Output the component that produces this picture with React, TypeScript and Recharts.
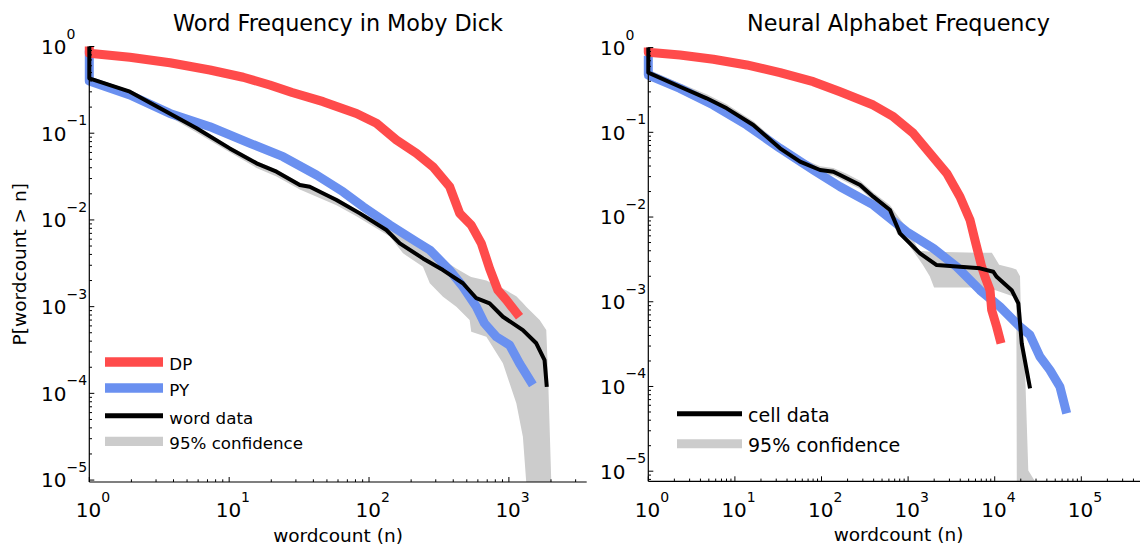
import React from 'react';
import { ComposedChart, Line, Area, XAxis, YAxis, Legend } from 'recharts';

const FONT = '"DejaVu Sans", "Liberation Sans", sans-serif';
const RED = '#ff4b4b';
const BLUE = '#6a90f0';
const BLACK = '#000000';
const GRAY = '#cccccc';

// ---------------- Left panel: Word Frequency in Moby Dick ----------------
const wordDpN = [1, 1, 1.95, 3.77, 7.28, 12.6, 19.5, 28.2, 47, 81.3, 113, 157, 218, 286, 377, 445, 538, 635, 728, 834, 957, 1191];
const wordDpP = [1, 0.835, 0.75, 0.65, 0.536, 0.442, 0.36, 0.295, 0.231, 0.169, 0.13, 0.0836, 0.0586, 0.0411, 0.0242, 0.0119, 0.0087, 0.00537, 0.00275, 0.00155, 0.0012, 0.000764];

const wordPyN = [1, 1, 1.95, 3.77, 7.28, 14.1, 24.3, 42.1, 65.2, 90.6, 141, 218, 272, 377, 469, 585, 670, 813, 1012, 1191, 1483];
const wordPyP = [0.9, 0.4, 0.276, 0.169, 0.119, 0.0764, 0.0536, 0.033, 0.0211, 0.0142, 0.00873, 0.00561, 0.0045, 0.00264, 0.0017, 0.001, 0.000641, 0.00045, 0.00036, 0.000222, 0.000125];

const wordDataN = [1, 1, 1.95, 3.38, 5.85, 10.1, 15.7, 21.8, 32, 37.7, 58.5, 86, 133, 166, 243, 338, 469, 585, 728, 906, 1259, 1570, 1799, 1866];
const wordDataP = [1, 0.43, 0.301, 0.185, 0.114, 0.0668, 0.045, 0.036, 0.0253, 0.0241, 0.017, 0.0119, 0.00766, 0.00537, 0.0036, 0.00264, 0.00186, 0.00125, 0.00109, 0.000764, 0.000537, 0.000378, 0.000242, 0.000119];

const LEFT_Y_MIN = 9.5e-6;
const wordBandN = [1, 1.95, 3.38, 5.85, 10.1, 15.7, 21.8, 32, 58.5, 81.3, 141, 175, 243, 272, 338, 421, 524, 538, 690, 906, 1130, 1259, 1330, 1660, 1850, 1900, 2010];
const wordBandLo = [0.398, 0.275, 0.17, 0.102, 0.0603, 0.0398, 0.0316, 0.0224, 0.0148, 0.011, 0.00646, 0.00412, 0.00288, 0.00186, 0.0013, 0.001, 0.0007, 0.000514, 0.00045, 0.000222, 7.7e-5, 3.16e-5, LEFT_Y_MIN, LEFT_Y_MIN, LEFT_Y_MIN, LEFT_Y_MIN, LEFT_Y_MIN];
const wordBandHi = [0.447, 0.316, 0.195, 0.12, 0.0708, 0.0479, 0.038, 0.0269, 0.0182, 0.0132, 0.00813, 0.00631, 0.00457, 0.00412, 0.00347, 0.00275, 0.00224, 0.00219, 0.002, 0.00162, 0.00132, 0.0011, 0.001, 0.0007, 0.000537, 0.000186, LEFT_Y_MIN];

// ---------------- Right panel: Neural Alphabet Frequency ----------------
const cellDpN = [1, 1, 2.32, 5.64, 13.7, 33.2, 80.4, 164, 396, 675, 1148, 1791, 2793, 3972, 5188, 5916, 7079, 7727, 8831, 9226, 10540, 11830];
const cellDpP = [1, 0.879, 0.818, 0.728, 0.624, 0.506, 0.396, 0.301, 0.21, 0.153, 0.0973, 0.0565, 0.0328, 0.0174, 0.00923, 0.00535, 0.00259, 0.00197, 0.00137, 0.000798, 0.000507, 0.000323];

const cellPyN = [1, 1, 2.32, 5.64, 13.7, 33.2, 80.4, 164, 396, 964, 1954, 3639, 6761, 11510, 19590, 25530, 33340, 43450, 56620, 67760];
const cellPyP = [0.8, 0.475, 0.33, 0.21, 0.122, 0.0647, 0.0359, 0.0228, 0.0139, 0.0067, 0.00427, 0.00259, 0.00137, 0.000873, 0.000507, 0.000405, 0.000224, 0.000156, 9.93e-5, 4.81e-5];

const cellDataN = [1, 1, 2.32, 4.72, 8.04, 16.3, 33.2, 56.5, 96.2, 137, 164, 279, 396, 618, 805, 1371, 2138, 6761, 9638, 10540, 15700, 18750, 20510, 25590];
const cellDataP = [1, 0.506, 0.345, 0.252, 0.192, 0.122, 0.0647, 0.045, 0.0359, 0.0343, 0.0313, 0.0239, 0.0174, 0.0121, 0.00641, 0.00372, 0.00271, 0.00248, 0.00226, 0.00197, 0.00137, 0.000957, 0.000323, 9.5e-5];

const RIGHT_Y_MIN = 7.6e-6;
const cellBandN = [1, 2.32, 4.72, 8.04, 16.3, 33.2, 56.5, 96.2, 137, 195, 279, 396, 618, 750, 1000, 1340, 1476, 1778, 1995, 6310, 9268, 11250, 15850, 17780, 17990, 19590, 19950, 22390, 24430, 29170];
const cellBandLo = [0.468, 0.309, 0.229, 0.174, 0.11, 0.0589, 0.0407, 0.0324, 0.0309, 0.0257, 0.0214, 0.0155, 0.0107, 0.0063, 0.00481, 0.00316, 0.00273, 0.002, 0.00147, 0.00147, 0.00141, 0.00132, 0.00117, 0.00112, RIGHT_Y_MIN, RIGHT_Y_MIN, RIGHT_Y_MIN, RIGHT_Y_MIN, RIGHT_Y_MIN, RIGHT_Y_MIN];
const cellBandHi = [0.55, 0.38, 0.282, 0.214, 0.135, 0.0724, 0.0501, 0.0398, 0.038, 0.0324, 0.0269, 0.0195, 0.0138, 0.0105, 0.00708, 0.00398, 0.00398, 0.00389, 0.00389, 0.0038, 0.0038, 0.00273, 0.00251, 0.0024, 0.00234, 0.002, 0.000955, 0.000156, 1.02e-5, RIGHT_Y_MIN];

// ---------------- Axes ----------------
const leftXDecades = [1, 10, 100, 1000];
const LEFT_X_MAX = 3600;
const rightXDecades = [1, 10, 100, 1000, 10000, 100000];
const RIGHT_X_MAX = 600000;
const yDecades = [1e-5, 1e-4, 1e-3, 1e-2, 1e-1, 1];
const minorSteps = [2, 3, 4, 5, 6, 7, 8, 9];

const leftTitle = 'Word Frequency in Moby Dick';
const rightTitle = 'Neural Alphabet Frequency';
const xLabelText = 'wordcount (n)';
const yLabelText = 'P[wordcount > n]';
const leftLegendLabels = ['DP', 'PY', 'word data', '95% confidence'];
const rightLegendLabels = ['cell data', '95% confidence'];

function logTicks(decades: number[], min: number, max: number): number[] {
  const out: number[] = [];
  const all = [decades[0] / 10, ...decades];
  all.forEach((d) => {
    if (d >= min && d <= max) out.push(d);
    minorSteps.forEach((k) => {
      const v = d * k;
      if (v >= min && v <= max) out.push(v);
    });
  });
  return out.sort((a, b) => a - b);
}

const zip = (ns: number[], ps: number[]) => ns.map((n, i) => ({ n, p: ps[i] }));
const zipBand = (ns: number[], lo: number[], hi: number[]) => ns.map((n, i) => ({ n, r: [lo[i], hi[i]] }));

const isDecade = (v: number) => Math.abs(Math.log10(v) - Math.round(Math.log10(v))) < 1e-6;
const expText = (v: number) => {
  const e = Math.round(Math.log10(v));
  return e < 0 ? '\u2212' + String(-e) : String(e);
};

const XH = 40;
const YW = 58;

const makeXTick = (axisY: number) => (props: any) => {
  const { x, payload } = props;
  const v = payload.value;
  const major = isDecade(v);
  return (
    <g>
      <line x1={x} x2={x} y1={axisY} y2={axisY - (major ? 5 : 2.7)} stroke="#000" strokeWidth={1} />
      {major ? (
        <text x={x - 13.5} y={axisY + 35.3} fontFamily={FONT} fontSize={20} fill="#000">
          10
          <tspan dy={-15} fontSize={14}>{expText(v)}</tspan>
        </text>
      ) : null}
    </g>
  );
};

const makeYTick = (axisX: number) => (props: any) => {
  const { y, payload } = props;
  const v = payload.value;
  const major = isDecade(v);
  return (
    <g>
      <line x1={axisX} x2={axisX + (major ? 5 : 2.7)} y1={y} y2={y} stroke="#000" strokeWidth={1} />
      {major ? (
        <text x={axisX - 48.3} y={y + 7.4} fontFamily={FONT} fontSize={20} fill="#000">
          10
          <tspan dy={-15.4} fontSize={14}>{expText(v)}</tspan>
        </text>
      ) : null}
    </g>
  );
};

type LegendItem = { label: string; color: string; width: number };

interface PanelProps {
  left: number;
  width: number;
  height: number;
  plotLeft: number;
  plotRight: number;
  plotTop: number;
  plotBottom: number;
  xMax: number;
  yMin: number;
  xTicks: number[];
  yTicks: number[];
  band: any[];
  py: any[];
  dp: any[];
  obs: any[];
  title: string;
  showYLabel: boolean;
  legendItems: LegendItem[];
  legendLeft: number;
  legendTop: number;
  legendRows: number[];
  legendLineLen: number;
  legendTextX: number;
  legendFont: number;
}

function Panel(p: PanelProps) {
  const margin = {
    top: p.plotTop,
    right: p.width - p.plotRight,
    bottom: p.height - p.plotBottom - XH,
    left: p.plotLeft - YW,
  };
  const xLabel = (props: any) => {
    const vb = props.viewBox || { x: p.plotLeft, width: p.plotRight - p.plotLeft };
    const cx = vb.x + vb.width / 2;
    return (
      <g>
        <text x={cx} y={p.plotBottom + 59.7} textAnchor="middle" fontFamily={FONT} fontSize={18.5} fill="#000">
          {xLabelText}
        </text>
        <text x={cx} y={30.5} textAnchor="middle" fontFamily={FONT} fontSize={22.3} fill="#000">
          {p.title}
        </text>
      </g>
    );
  };
  const yLabel = (props: any) => {
    if (!p.showYLabel) return null;
    const cy = (p.plotTop + p.plotBottom) / 2;
    return (
      <text
        transform={`translate(25.6, ${cy}) rotate(-90)`}
        textAnchor="middle"
        fontFamily={FONT}
        fontSize={18.5}
        fill="#000"
      >
        {yLabelText}
      </text>
    );
  };
  const legendContent = () => (
    <svg width={300} height={120} style={{ display: 'block', overflow: 'visible' }}>
      {p.legendItems.map((it, i) => (
        <g key={it.label}>
          <line x1={0} x2={p.legendLineLen} y1={p.legendRows[i]} y2={p.legendRows[i]} stroke={it.color} strokeWidth={it.width} />
          <text x={p.legendTextX} y={p.legendRows[i] + 7.8} fontFamily={FONT} fontSize={p.legendFont} fill="#000">
            {it.label}
          </text>
        </g>
      ))}
    </svg>
  );
  return (
    <div style={{ position: 'absolute', left: p.left, top: 0, width: p.width, height: p.height }}>
      <ComposedChart width={p.width} height={p.height} margin={margin}>
        <XAxis
          dataKey="n"
          type="number"
          scale="log"
          domain={[1, p.xMax]}
          ticks={p.xTicks}
          interval={0}
          height={XH}
          tickLine={false}
          axisLine={{ stroke: '#000', strokeWidth: 1.2 }}
          tick={makeXTick(p.plotBottom)}
          label={xLabel}
        />
        <YAxis
          type="number"
          scale="log"
          domain={[p.yMin, 1]}
          ticks={p.yTicks}
          interval={0}
          width={YW}
          tickLine={false}
          axisLine={{ stroke: '#000', strokeWidth: 1.2 }}
          tick={makeYTick(p.plotLeft)}
          label={yLabel}
        />
        <Area
          data={p.band}
          dataKey="r"
          type="linear"
          stroke="none"
          fill={GRAY}
          fillOpacity={1}
          dot={false}
          activeDot={false}
          isAnimationActive={false}
        />
        <Line data={p.py} dataKey="p" type="linear" stroke={BLUE} strokeWidth={9} dot={false} activeDot={false} strokeLinejoin="round" isAnimationActive={false} />
        <Line data={p.dp} dataKey="p" type="linear" stroke={RED} strokeWidth={9} dot={false} activeDot={false} strokeLinejoin="round" isAnimationActive={false} />
        <Line data={p.obs} dataKey="p" type="linear" stroke={BLACK} strokeWidth={4} dot={false} activeDot={false} strokeLinejoin="round" isAnimationActive={false} />
        <Legend
          layout="vertical"
          align="center"
          verticalAlign="middle"
          wrapperStyle={{ position: 'absolute', left: p.legendLeft, top: p.legendTop, width: 300, height: 120, margin: 0, padding: 0 }}
          content={legendContent}
        />
      </ComposedChart>
    </div>
  );
}

export default function App() {
  const leftXTicks = logTicks(leftXDecades, 1, LEFT_X_MAX);
  const rightXTicks = logTicks(rightXDecades, 1, RIGHT_X_MAX);
  const leftYTicks = logTicks(yDecades, LEFT_Y_MIN, 1);
  const rightYTicks = logTicks(yDecades, RIGHT_Y_MIN, 1);

  return (
    <div style={{ position: 'fixed', left: 0, top: 0, width: 1140, height: 546, overflow: 'hidden', background: '#fff' }}>
      <Panel
        left={0}
        width={600}
        height={546}
        plotLeft={89.3}
        plotRight={586.7}
        plotTop={46.5}
        plotBottom={482}
        xMax={LEFT_X_MAX}
        yMin={LEFT_Y_MIN}
        xTicks={leftXTicks}
        yTicks={leftYTicks}
        band={zipBand(wordBandN, wordBandLo, wordBandHi)}
        py={zip(wordPyN, wordPyP)}
        dp={zip(wordDpN, wordDpP)}
        obs={zip(wordDataN, wordDataP)}
        title={leftTitle}
        showYLabel={true}
        legendItems={[
          { label: leftLegendLabels[0], color: RED, width: 9.3 },
          { label: leftLegendLabels[1], color: BLUE, width: 9.3 },
          { label: leftLegendLabels[2], color: BLACK, width: 5 },
          { label: leftLegendLabels[3], color: GRAY, width: 9.3 },
        ]}
        legendLeft={105}
        legendTop={340}
        legendRows={[22, 48, 75.7, 101.3]}
        legendLineLen={58}
        legendTextX={64.3}
        legendFont={16.7}
      />
      <Panel
        left={590}
        width={580}
        height={546}
        plotLeft={58.3}
        plotRight={558.7}
        plotTop={47.6}
        plotBottom={481.3}
        xMax={RIGHT_X_MAX}
        yMin={RIGHT_Y_MIN}
        xTicks={rightXTicks}
        yTicks={rightYTicks}
        band={zipBand(cellBandN, cellBandLo, cellBandHi)}
        py={zip(cellPyN, cellPyP)}
        dp={zip(cellDpN, cellDpP)}
        obs={zip(cellDataN, cellDataP)}
        title={rightTitle}
        showYLabel={false}
        legendItems={[
          { label: rightLegendLabels[0], color: BLACK, width: 5 },
          { label: rightLegendLabels[1], color: GRAY, width: 9 },
        ]}
        legendLeft={86.7}
        legendTop={390}
        legendRows={[23.7, 53.7]}
        legendLineLen={65}
        legendTextX={71}
        legendFont={19}
      />
    </div>
  );
}
